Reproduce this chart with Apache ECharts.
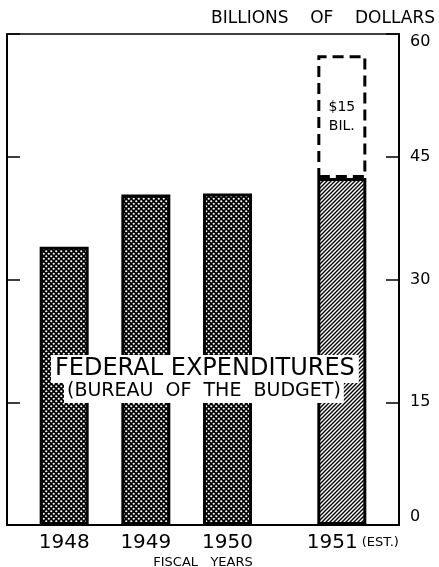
<!DOCTYPE html>
<html>
<head>
<meta charset="utf-8">
<script src="https://cdn.jsdelivr.net/npm/echarts@6/dist/echarts.min.js"></script>
<style>
  html, body { margin: 0; padding: 0; background: #fff; }
  #chart { width: 439px; height: 567px; }
</style>
</head>
<body>
<div id="chart"></div>
<script>
// data (billions of dollars)
var years = ['1948', '1949', '1950', '1951'];
var spending = [34.0, 40.4, 40.5, 42.4];
var estIncrease = [null, null, null, 15];
var yTicks = [0, 15, 30, 45, 60];

// the years are not evenly spaced, so the axis is cut in narrow slots
var SLOTS = 24;
var yearSlot = [3, 8, 13, 20];
var FONT = 'DejaVu Sans';

// black with white dots
function dotPattern() {
  var c = document.createElement('canvas');
  c.width = 5; c.height = 5;
  var g = c.getContext('2d');
  g.fillStyle = '#000';
  g.fillRect(0, 0, 5, 5);
  g.fillStyle = '#fff';
  g.beginPath();
  g.arc(1.25, 1.25, 1.1, 0, Math.PI * 2);
  g.arc(3.75, 3.75, 1.1, 0, Math.PI * 2);
  g.fill();
  return c;
}
// white with black diagonals
function hatchPattern() {
  var c = document.createElement('canvas');
  c.width = 4; c.height = 4;
  var g = c.getContext('2d');
  g.fillStyle = '#fff';
  g.fillRect(0, 0, 4, 4);
  g.strokeStyle = '#000';
  g.lineWidth = 1.4;
  g.beginPath();
  g.moveTo(-1, 5); g.lineTo(5, -1);
  g.moveTo(-1, 1); g.lineTo(1, -1);
  g.moveTo(3, 5); g.lineTo(5, 3);
  g.stroke();
  return c;
}
var dots = { image: dotPattern(), repeat: 'repeat' };
var hatch = { image: hatchPattern(), repeat: 'repeat' };

var cats = [], baseData = [], topData = [];
for (var i = 0; i < SLOTS; i++) {
  cats.push('');
  baseData.push(null);
  topData.push(null);
}
years.forEach(function (y, k) {
  var s = yearSlot[k];
  cats[s] = y;
  baseData[s] = {
    value: spending[k],
    itemStyle: { color: estIncrease[k] ? hatch : dots }
  };
  topData[s] = estIncrease[k];
});

var chart = echarts.init(document.getElementById('chart'), null, { renderer: 'canvas' });

var option = {
  animation: false,
  textStyle: { fontFamily: FONT, color: '#000' },
  title: [
    {
      text: 'BILLIONS    OF    DOLLARS',
      right: 4, top: 10,
      textStyle: { fontFamily: FONT, fontSize: 17, fontWeight: 'normal', color: '#000' },
      padding: 0
    },
    {
      text: 'FEDERAL EXPENDITURES',
      left: 51, top: 355,
      backgroundColor: '#fff',
      padding: [2, 4, 2, 4],
      textStyle: { fontFamily: FONT, fontSize: 24, fontWeight: 'normal', color: '#000', lineHeight: 24 }
    },
    {
      text: '(BUREAU  OF  THE  BUDGET)',
      left: 64, top: 380,
      backgroundColor: '#fff',
      padding: [1, 3, 2, 3],
      textStyle: { fontFamily: FONT, fontSize: 19, fontWeight: 'normal', color: '#000', lineHeight: 20 }
    }
  ],
  grid: {
    left: 7, right: 40, top: 34, bottom: 42,
    show: true, borderColor: '#000', borderWidth: 1.5,
    containLabel: false,
    outerBoundsMode: 'none'
  },
  xAxis: {
    type: 'category',
    data: cats,
    name: 'FISCAL   YEARS',
    nameLocation: 'middle',
    nameGap: 31,
    nameMoveOverlap: false,
    nameTextStyle: { fontFamily: FONT, fontSize: 13, color: '#000' },
    axisLine: { lineStyle: { color: '#000', width: 2 } },
    axisTick: { show: false },
    axisLabel: {
      interval: 0,
      margin: 8,
      color: '#000',
      fontFamily: FONT,
      fontSize: 20,
      formatter: function (v) {
        return v === '1951' ? '{y|1951}{e| (EST.)}' : v;
      },
      rich: {
        y: { fontFamily: FONT, fontSize: 20, color: '#000', padding: [0, 0, 0, 22] },
        e: { fontFamily: FONT, fontSize: 13, color: '#000' }
      }
    }
  },
  yAxis: [
    {
      type: 'value',
      position: 'right',
      min: 0, max: 60, interval: 15,
      axisLine: { show: true, lineStyle: { color: '#000', width: 2 } },
      axisTick: { show: true, inside: true, length: 13, lineStyle: { color: '#000', width: 1.5 } },
      axisLabel: {
        margin: 11,
        color: '#000',
        fontFamily: FONT,
        fontSize: 16,
        verticalAlignMinLabel: 'bottom',
        verticalAlignMaxLabel: 'top',
        formatter: function (v) { return yTicks.indexOf(v) >= 0 ? String(v) : ''; }
      },
      splitLine: { show: false }
    },
    {
      type: 'value',
      position: 'left',
      min: 0, max: 60, interval: 15,
      axisLine: { show: true, lineStyle: { color: '#000', width: 2 } },
      axisTick: { show: true, inside: true, length: 13, lineStyle: { color: '#000', width: 1.5 } },
      axisLabel: { show: false },
      splitLine: { show: false }
    }
  ],
  series: [
    {
      type: 'bar',
      stack: 'total',
      silent: true,
      barWidth: 49,
      data: baseData,
      itemStyle: { color: dots, borderColor: '#000', borderWidth: 3 }
    },
    {
      type: 'bar',
      stack: 'total',
      silent: true,
      barWidth: 49,
      data: topData,
      itemStyle: {
        color: 'rgba(0,0,0,0)',
        borderColor: '#000',
        borderWidth: 3,
        borderType: [11, 6]
      },
      label: {
        show: true,
        position: 'inside',
        formatter: '$15\nBIL.',
        fontFamily: FONT,
        fontSize: 14,
        lineHeight: 19,
        color: '#000'
      }
    }
  ]
};
chart.setOption(option);
</script>
</body>
</html>
